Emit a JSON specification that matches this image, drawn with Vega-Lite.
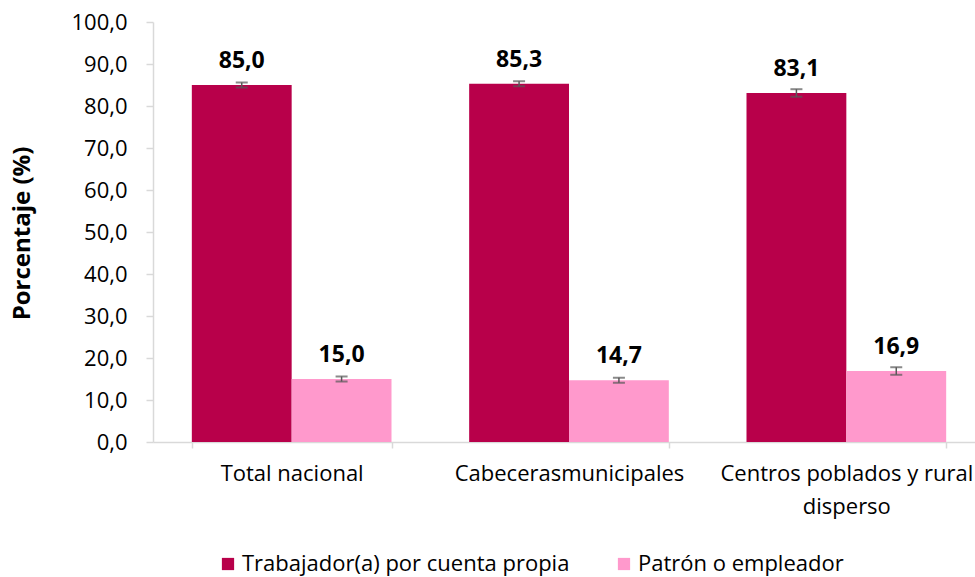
{
  "$schema": "https://vega.github.io/schema/vega-lite/v6.json",
  "width": 832,
  "height": 420,
  "autosize": "none",
  "padding": {"left": 153, "top": 22, "right": 0, "bottom": 135},
  "background": "white",
  "data": {"values": [
    {"zona": "Total nacional", "posicion": "Trabajador(a) por cuenta propia", "porcentaje": 85.0, "inferior": 84.4, "superior": 85.6},
    {"zona": "Total nacional", "posicion": "Patrón o empleador", "porcentaje": 15.0, "inferior": 14.4, "superior": 15.6},
    {"zona": "Cabecerasmunicipales", "posicion": "Trabajador(a) por cuenta propia", "porcentaje": 85.3, "inferior": 84.7, "superior": 85.9},
    {"zona": "Cabecerasmunicipales", "posicion": "Patrón o empleador", "porcentaje": 14.7, "inferior": 14.1, "superior": 15.3},
    {"zona": "Centros poblados y rural disperso", "posicion": "Trabajador(a) por cuenta propia", "porcentaje": 83.1, "inferior": 82.2, "superior": 84.0},
    {"zona": "Centros poblados y rural disperso", "posicion": "Patrón o empleador", "porcentaje": 16.9, "inferior": 16.0, "superior": 17.8}
  ]},
  "encoding": {
    "x": {
      "field": "zona", "type": "nominal", "sort": null,
      "scale": {"paddingInner": 0.28, "paddingOuter": 0.14},
      "axis": {
        "title": null, "labelAngle": 0, "tickBand": "extent",
        "domainColor": "#d9d9d9", "domainWidth": 1.5, "tickColor": "#d9d9d9", "tickWidth": 1.5, "tickSize": 6,
        "labelFontSize": 22, "labelColor": "#000000", "labelPadding": 15, "labelLineHeight": 33, "labelLimit": 400,
        "labelExpr": "datum.label == 'Centros poblados y rural disperso' ? ['Centros poblados y rural', 'disperso'] : datum.label"
      }
    },
    "xOffset": {
      "field": "posicion", "type": "nominal",
      "sort": ["Trabajador(a) por cuenta propia", "Patrón o empleador"],
      "scale": {"paddingInner": 0, "paddingOuter": 0}
    }
  },
  "layer": [
    {
      "mark": {"type": "bar"},
      "encoding": {
        "y": {
          "field": "porcentaje", "type": "quantitative",
          "scale": {"domain": [0, 100], "nice": false},
          "axis": {
            "title": "Porcentaje (%)", "titleFontSize": 24, "titleFontWeight": "bold", "titleColor": "#000000",
            "titleX": -131, "titleY": 211, "titleAngle": -90, "titleAlign": "center", "titleBaseline": "middle",
            "values": [0, 10, 20, 30, 40, 50, 60, 70, 80, 90, 100],
            "labelExpr": "replace(format(datum.value, '.1f'), '.', ',')",
            "grid": false, "domainColor": "#d9d9d9", "domainWidth": 1.5, "tickColor": "#d9d9d9", "tickWidth": 1.5, "tickSize": 7,
            "labelPadding": 19, "labelFontSize": 22, "labelColor": "#000000"
          }
        },
        "color": {
          "field": "posicion", "type": "nominal",
          "scale": {"domain": ["Trabajador(a) por cuenta propia", "Patrón o empleador"], "range": ["#B8004A", "#FF99CC"]},
          "legend": {
            "title": null, "orient": "none", "legendX": 64, "legendY": 531, "direction": "horizontal",
            "symbolType": "square", "symbolSize": 150, "symbolStrokeWidth": 0, "labelFontSize": 22, "labelColor": "#000000",
            "columnPadding": 43, "labelOffset": 3, "labelLimit": 400
          }
        }
      }
    },
    {
      "mark": {"type": "rule", "color": "#595959", "strokeWidth": 1.5},
      "encoding": {
        "y": {"field": "inferior", "type": "quantitative"},
        "y2": {"field": "superior"}
      }
    },
    {
      "mark": {"type": "tick", "color": "#595959", "size": 12, "thickness": 2},
      "encoding": {"y": {"field": "inferior", "type": "quantitative"}}
    },
    {
      "mark": {"type": "tick", "color": "#595959", "size": 12, "thickness": 2},
      "encoding": {"y": {"field": "superior", "type": "quantitative"}}
    },
    {
      "mark": {"type": "text", "baseline": "alphabetic", "dy": -17, "fontWeight": "bold", "fontSize": 23, "color": "#000000"},
      "encoding": {
        "y": {"field": "porcentaje", "type": "quantitative"},
        "text": {"field": "porcentaje", "type": "quantitative", "format": ".1f"}
      }
    }
  ],
  "config": {
    "font": "Open Sans",
    "view": {"stroke": null},
    "locale": {"number": {"decimal": ",", "thousands": ".", "grouping": [3], "currency": ["$", ""]}}
  }
}
